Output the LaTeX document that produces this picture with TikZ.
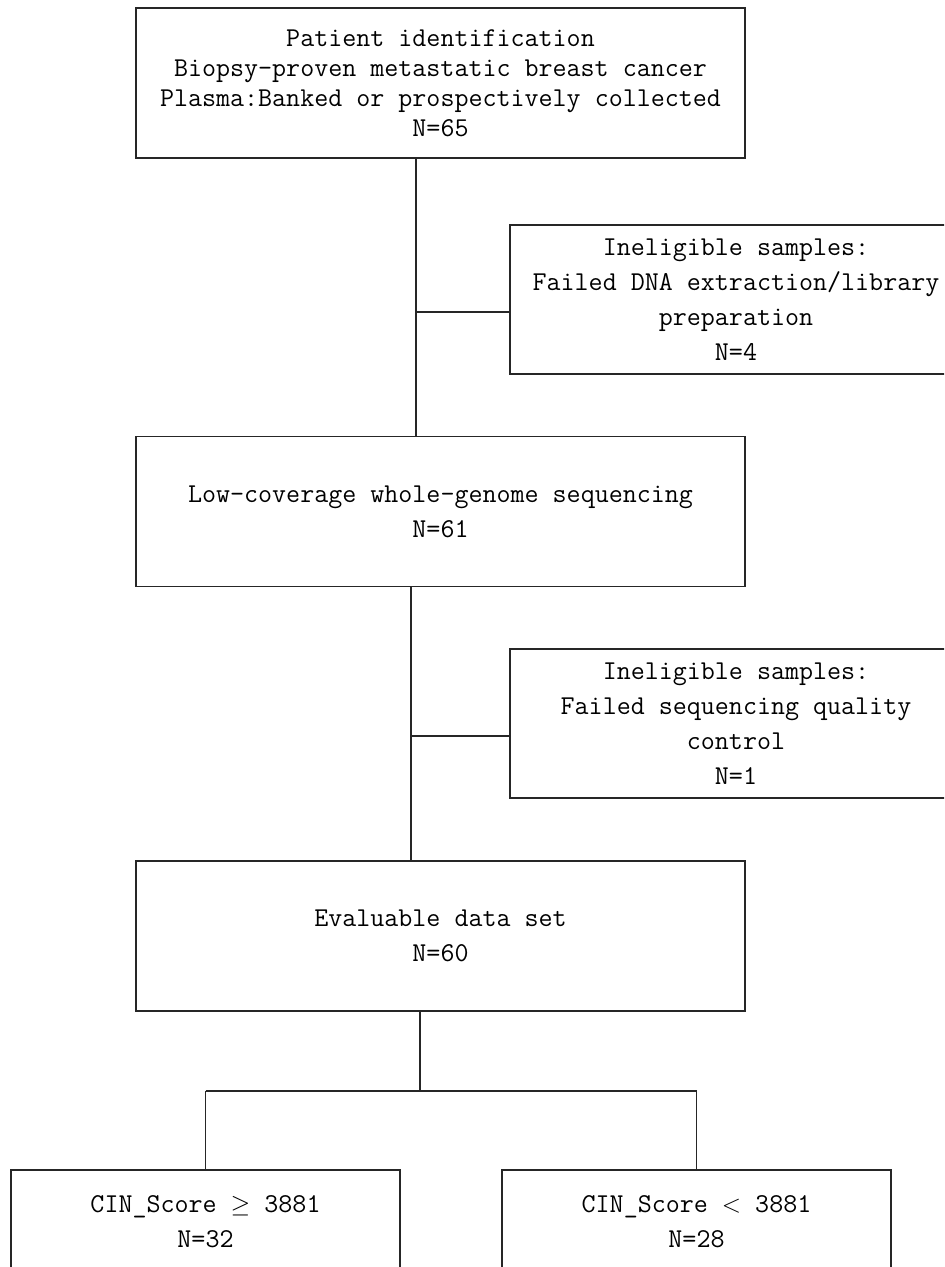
\documentclass[tikz,border=0pt]{standalone}
\usepackage{fontspec}
\usepackage{tikz}
\usetikzlibrary{calc}
\tikzstyle{box}=[rectangle, draw=black!85, line width=1pt, align=center, inner sep=0pt, anchor=center, font=\fontsize{15.5}{20}\selectfont\ttfamily]
\tikzstyle{mainbox}=[box, minimum width=12.18cm, minimum height=3cm]
\tikzstyle{exbox}=[box, minimum width=9.04cm, minimum height=2.98cm]
\tikzstyle{armbox}=[box, minimum width=7.78cm, minimum height=2.08cm]
\tikzstyle{link}=[draw=black!85, line width=1pt]

\begin{document}
\begin{tikzpicture}[x=0.02cm, y=-0.02cm]
	\useasboundingbox (0,0) rectangle (944,1267);
	\clip (0,0) rectangle (944,1267);

	\coordinate (j1) at (416,312);
	\coordinate (j2) at (411,736);
	\coordinate (j3) at (420,1091);

	\node[mainbox, font=\fontsize{15.5}{17}\selectfont\ttfamily](patients) at (440.5,83){Patient identification\\Biopsy-proven metastatic breast cancer\\Plasma:Banked or prospectively collected\\N=65};
	\node[exbox](failedlib) at (736,299.5){Ineligible samples:\\Failed DNA extraction/library\\preparation\\N=4};
	\node[mainbox](lcwgs) at (440.5,511.5){Low-coverage whole-genome sequencing\\N=61};
	\node[exbox](failedqc) at (736,723.5){Ineligible samples:\\Failed sequencing quality\\control\\N=1};
	\node[mainbox](evaluable) at (440.5,936){Evaluable data set\\N=60};
	\node[armbox](high) at (205.5,1222){CIN\_Score $\geq$ 3881\\N=32};
	\node[armbox](low) at (696.5,1222){CIN\_Score $<$ 3881\\N=28};

	\draw[link] (patients.south -| j1) -- (j1 |- lcwgs.north);
	\draw[link] (j1) -- (j1 -| failedlib.west);
	\draw[link] (lcwgs.south -| j2) -- (j2 |- evaluable.north);
	\draw[link] (j2) -- (j2 -| failedqc.west);

	\draw[link] (evaluable.south -| j3) -- (j3);
	\draw[link] (j3 -| high.north) -- (j3 -| low.north);
	\draw[link] (j3 -| high.north) -- (high.north);
	\draw[link] (j3 -| low.north) -- (low.north);

\end{tikzpicture}
\end{document}
